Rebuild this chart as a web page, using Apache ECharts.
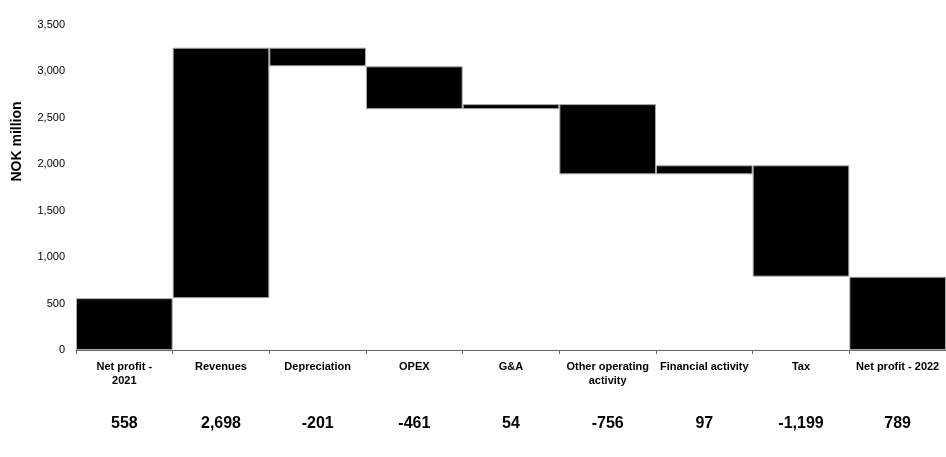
<!DOCTYPE html>
<html>
<head>
<meta charset="utf-8">
<script src="https://cdn.jsdelivr.net/npm/echarts@6/dist/echarts.min.js"></script>
<style>
  html, body { margin: 0; padding: 0; background: #fff; }
  #chart { width: 946px; height: 457px; }
</style>
</head>
<body>
<div id="chart"></div>
<script>
const categories = ["Net profit -\n2021", "Revenues", "Depreciation", "OPEX", "G&A",
  "Other operating\nactivity", "Financial activity", "Tax", "Net profit - 2022"];
// first and last are totals, the rest are changes
const changes = [558, 2698, -201, -461, 54, -756, 97, -1199, 789];
const isTotal = [true, false, false, false, false, false, false, false, true];
const yTicks = { min: 0, max: 3500, interval: 500 };

const fmt = (v) => Number(v).toLocaleString("en-US");

// build the invisible base + visible block for the waterfall
const base = [];
const block = [];
let running = 0;
changes.forEach((c, i) => {
  if (isTotal[i]) {
    base.push(0);
    block.push(c);
    running = c;
  } else {
    const next = running + c;
    base.push(Math.min(running, next));
    block.push(Math.abs(c));
    running = next;
  }
});

const chart = echarts.init(document.getElementById("chart"));
const font = "'Liberation Sans', Arial, sans-serif";

chart.setOption({
  animation: false,
  backgroundColor: "#fff",
  textStyle: { fontFamily: font },
  grid: { left: 76, right: -3, top: 25, bottom: 107, containLabel: false },
  xAxis: [
    {
      type: "category",
      data: categories,
      axisLine: { lineStyle: { color: "#666", width: 1 } },
      axisTick: { show: true, length: 4, lineStyle: { color: "#666" } },
      axisLabel: {
        color: "#000", fontSize: 11, fontWeight: "bold", margin: 10,
        interval: 0, lineHeight: 14, fontFamily: font,
      },
    },
    {
      type: "category",
      position: "bottom",
      offset: 56,
      data: changes.map(fmt),
      axisLine: { show: false },
      axisTick: { show: false },
      axisLabel: {
        color: "#000", fontSize: 16, fontWeight: "bold", margin: 10,
        interval: 0, fontFamily: font,
      },
    },
  ],
  yAxis: {
    type: "value",
    min: yTicks.min,
    max: yTicks.max,
    interval: yTicks.interval,
    name: "NOK million",
    nameLocation: "middle",
    nameGap: 52,
    nameTextStyle: {
      color: "#000", fontSize: 14, fontWeight: "bold", fontFamily: font,
      padding: [0, 0, 0, 92],
    },
    axisLine: { show: false },
    axisTick: { show: false },
    splitLine: { show: false },
    axisLabel: { color: "#000", fontSize: 11, margin: 11, formatter: fmt, fontFamily: font },
  },
  series: [
    {
      type: "bar",
      stack: "wf",
      data: base,
      barCategoryGap: 0,
      itemStyle: { color: "transparent" },
      silent: true,
    },
    {
      type: "bar",
      stack: "wf",
      data: block,
      barCategoryGap: 0,
      itemStyle: { color: "#000", borderColor: "#aaa", borderWidth: 1 },
    },
  ],
});
</script>
</body>
</html>
